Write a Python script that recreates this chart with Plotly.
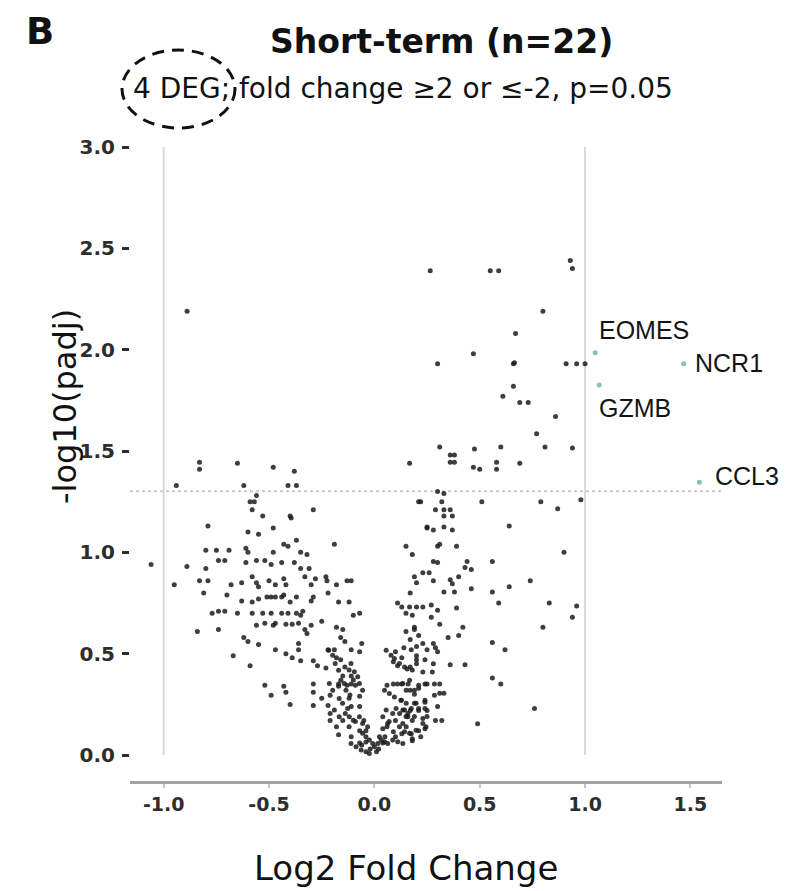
import math
import plotly.graph_objects as go

# ---------------------------------------------------------------------------
# Volcano plot data: log2 fold change and -log10(adjusted p) per gene
# ---------------------------------------------------------------------------
LOG2FC = [
    # genes with padj < 0.05
    0.265, 0.55, 0.59, 0.93, 0.94, 0.80, 0.67, 0.47, 0.30, 0.66, 0.665, 0.91, 0.96, 1.00,
    0.66, 0.61, 0.69, 0.73, 0.86, 0.77, 0.31, 0.475, 0.60, 0.81, 0.94, 0.36, 0.38, 0.36,
    0.38, 0.47, 0.50, 0.58, 0.58, 0.69, 0.167, 0.30, 0.33, -0.889, -0.83, -0.83, -0.65,
    -0.48, -0.38, -0.41, -0.37, -0.62, -0.94,
    # left arm
    -0.56, -0.59, -0.57, -0.58, -0.53, -0.40, -0.395, -0.29, -0.48, -0.79, -0.60, -0.55,
    -0.19, -0.43, -0.41, -0.37, 0.21, 0.25, 0.15, 0.18,
    -0.80, -0.75, -0.69, -0.61, -0.60, -0.48, -0.35, -0.32,
    -1.06, -0.89, -0.80, -0.74, -0.71, -0.61, -0.56, -0.52, -0.49, -0.44, -0.38, -0.35, -0.31,
    -0.95, -0.83, -0.79, -0.81, -0.68, -0.63, -0.58, -0.56, -0.55, -0.50, -0.47, -0.43, -0.42,
    -0.33, -0.30, -0.28, -0.23, -0.225, -0.18, -0.13, -0.11,
    -0.70, -0.63, -0.58, -0.55, -0.51, -0.49, -0.47, -0.44, -0.43, -0.40, -0.37, -0.30, -0.29,
    -0.22, -0.17, -0.12,
    -0.77, -0.74, -0.71, -0.65, -0.58, -0.53, -0.49, -0.44, -0.41, -0.37, -0.35, -0.34, -0.10, -0.07,
    -0.84, -0.74, -0.56, -0.52, -0.48, -0.47, -0.42, -0.39, -0.36, -0.33, -0.32, -0.30, -0.25,
    -0.18, -0.15,
    -0.62, -0.60, -0.55, -0.36, -0.16, -0.14, -0.06,
    -0.67, -0.59, -0.47, -0.42, -0.39, -0.36, -0.35, -0.29, -0.27, -0.23, -0.22, -0.19, -0.18,
    -0.16, -0.11, -0.07,
    -0.52, -0.49, -0.43, -0.42, -0.40, -0.29, -0.29, -0.29, -0.25, -0.22, -0.21, -0.17, -0.17,
    -0.15, -0.14, -0.12, -0.11, -0.10, -0.13, -0.11, -0.09, -0.07, -0.12, -0.11, -0.07,
    -0.21, -0.21, -0.18, -0.17, -0.15, -0.12, -0.09, -0.07, -0.05, -0.04,
    -0.11, -0.07, -0.06, -0.04, -0.02, 0.01, 0.02, 0.04, 0.05,
    # right arm
    0.04, 0.06, 0.09, 0.10, 0.07, 0.10, 0.12, 0.15, 0.17, 0.19, 0.21,
    0.06, 0.09, 0.11, 0.13, 0.16,
    0.09, 0.11, 0.13, 0.17, 0.18, 0.20,
    0.10, 0.14, 0.17, 0.19, 0.21, 0.15, 0.19, 0.23, 0.25,
    0.11, 0.13, 0.15, 0.18, 0.20,
    0.19, 0.20, 0.23, 0.17,
    0.17, 0.19, 0.21, 0.24,
    0.19, 0.24, 0.25,
    0.18, 0.22, 0.245,
    0.22, 0.32, 0.51, 0.79, 0.87, 0.98,
    0.29, 0.33, 0.36, 0.37, 0.33,
    0.25, 0.28, 0.33, 0.37, 0.64,
    0.30, 0.31, 0.39, 0.90,
    0.28, 0.30, 0.44, 0.56, 0.43, 0.46,
    0.26, 0.28, 0.36, 0.37, 0.40,
    0.46, 0.64, 0.74,
    0.33, 0.38, 0.56,
    0.59, 0.83, 0.96, 0.94,
    0.167, 0.23, 0.27, 0.30, 0.39,
    0.27, 0.31,
    0.35, 0.42, 0.40, 0.80,
    0.56, 0.62,
    0.29, 0.30, 0.28, 0.20, 0.175,
    0.20, 0.24, 0.20, 0.28, 0.36, 0.43,
    0.23, 0.275, 0.155,
    0.56, 0.60,
    0.21, 0.25, 0.285, 0.31, 0.285, 0.31, 0.33,
    0.24, 0.24, 0.30, 0.21, 0.175,
    0.76,
    0.23, 0.25, 0.29, 0.32, 0.18,
    0.49,
    0.21, 0.24, 0.175, 0.18, 0.13,
    # dense core of the V
    -0.217, -0.198, -0.186, -0.170, -0.159, -0.143, -0.135, -0.116, -0.214, -0.198, -0.167,
    -0.151, -0.127, -0.111, -0.095, -0.079, -0.071, -0.056, -0.190, -0.167, -0.138, -0.119,
    -0.100, -0.071, -0.056, -0.032, -0.056, -0.040, -0.024, -0.008, 0.000, 0.016, 0.032,
    -0.111, -0.087, -0.063, -0.040, -0.024,
    0.056, 0.079, 0.095, 0.119, 0.143, 0.048, 0.071, 0.095, 0.127, 0.151, 0.056, 0.087,
    0.103, 0.135, 0.159, 0.040, 0.063, 0.119, 0.143, 0.167, 0.198, 0.230, 0.024, 0.048,
    0.063, 0.087, 0.111, 0.135,
    0.135, 0.151, 0.127, 0.143, 0.159, 0.190, 0.198, 0.167, 0.135, 0.151,
]

NEG_LOG10_PADJ = [
    # genes with padj < 0.05
    2.39, 2.39, 2.39, 2.44, 2.40, 2.19, 2.08, 1.98, 1.93, 1.93, 1.935, 1.93, 1.93, 1.93,
    1.82, 1.77, 1.74, 1.74, 1.67, 1.585, 1.52, 1.51, 1.52, 1.52, 1.515, 1.48, 1.48, 1.445,
    1.445, 1.42, 1.41, 1.445, 1.41, 1.44, 1.44, 1.30, 1.29, 2.19, 1.445, 1.41, 1.44,
    1.42, 1.40, 1.33, 1.33, 1.33, 1.33,
    # left arm
    1.28, 1.25, 1.25, 1.21, 1.18, 1.18, 1.17, 1.21, 1.12, 1.13, 1.10, 1.09,
    1.04, 1.04, 1.03, 1.06, 1.25, 1.12, 1.03, 0.99,
    1.01, 1.01, 1.01, 1.02, 1.00, 1.00, 1.00, 0.99,
    0.94, 0.93, 0.92, 0.96, 0.96, 0.95, 0.96, 0.96, 0.94, 0.95, 0.95, 0.92, 0.92,
    0.84, 0.86, 0.86, 0.80, 0.84, 0.85, 0.88, 0.85, 0.83, 0.86, 0.84, 0.87, 0.84,
    0.88, 0.84, 0.87, 0.88, 0.86, 0.84, 0.86, 0.86,
    0.79, 0.76, 0.755, 0.77, 0.78, 0.78, 0.78, 0.78, 0.79, 0.755, 0.78, 0.76, 0.78,
    0.80, 0.755, 0.755,
    0.70, 0.71, 0.71, 0.70, 0.70, 0.70, 0.70, 0.70, 0.70, 0.70, 0.69, 0.71, 0.69, 0.70,
    0.61, 0.62, 0.64, 0.65, 0.64, 0.65, 0.645, 0.645, 0.65, 0.62, 0.60, 0.64, 0.66,
    0.63, 0.62,
    0.58, 0.56, 0.545, 0.55, 0.58, 0.56, 0.55,
    0.49, 0.44, 0.52, 0.50, 0.48, 0.52, 0.465, 0.465, 0.44, 0.43, 0.52, 0.52, 0.48,
    0.47, 0.52, 0.51,
    0.345, 0.295, 0.34, 0.31, 0.25, 0.35, 0.31, 0.245, 0.28, 0.245, 0.295, 0.35, 0.34,
    0.39, 0.435, 0.42, 0.39, 0.37, 0.345, 0.35, 0.345, 0.29, 0.28, 0.24, 0.24,
    0.205, 0.17, 0.14, 0.10, 0.17, 0.14, 0.165, 0.12, 0.17, 0.12,
    0.09, 0.06, 0.05, 0.065, 0.03, 0.016, 0.03, 0.06, 0.09,
    # right arm
    0.13, 0.14, 0.115, 0.09, 0.165, 0.17, 0.205, 0.19, 0.22, 0.19, 0.23,
    0.345, 0.35, 0.35, 0.35, 0.35,
    0.46, 0.44, 0.48, 0.435, 0.42, 0.47,
    0.51, 0.53, 0.57, 0.62, 0.59, 0.61, 0.63, 0.55, 0.52,
    0.75, 0.73, 0.70, 0.69, 0.73,
    0.88, 0.85, 0.90, 0.80,
    0.32, 0.30, 0.33, 0.35,
    0.255, 0.27, 0.22,
    0.07, 0.09, 0.14,
    1.25, 1.25, 1.25, 1.25, 1.215, 1.26,
    1.21, 1.21, 1.21, 1.18, 1.18,
    1.125, 1.11, 1.125, 1.11, 1.13,
    1.03, 1.04, 1.03, 1.00,
    0.955, 0.95, 0.955, 0.955, 0.925, 0.915,
    0.90, 0.86, 0.865, 0.845, 0.88,
    0.82, 0.83, 0.86,
    0.805, 0.805, 0.805,
    0.75, 0.75, 0.735, 0.68,
    0.73, 0.73, 0.74, 0.715, 0.725,
    0.68, 0.645,
    0.58, 0.63, 0.59, 0.63,
    0.555, 0.52,
    0.53, 0.51, 0.55, 0.535, 0.52,
    0.49, 0.47, 0.45, 0.45, 0.445, 0.445,
    0.41, 0.41, 0.425,
    0.38, 0.35,
    0.345, 0.35, 0.35, 0.35, 0.295, 0.305, 0.305,
    0.26, 0.23, 0.24, 0.22, 0.23,
    0.23,
    0.18, 0.19, 0.17, 0.17, 0.17,
    0.155,
    0.12, 0.13, 0.105, 0.08, 0.105,
    # dense core of the V
    0.517, 0.493, 0.452, 0.419, 0.369, 0.353, 0.320, 0.296, 0.353, 0.320, 0.279,
    0.255, 0.230, 0.452, 0.411, 0.386, 0.353, 0.320, 0.222, 0.189, 0.205, 0.189,
    0.172, 0.189, 0.156, 0.140, 0.107, 0.090, 0.074, 0.057, 0.041, 0.057, 0.074,
    0.057, 0.041, 0.025, 0.016, 0.008,
    0.517, 0.493, 0.476, 0.452, 0.435, 0.320, 0.304, 0.287, 0.271, 0.255, 0.222, 0.205,
    0.230, 0.222, 0.205, 0.189, 0.156, 0.140, 0.115, 0.107, 0.123, 0.156, 0.090, 0.066,
    0.057, 0.074, 0.066, 0.057,
    0.353, 0.320, 0.271, 0.222, 0.189, 0.320, 0.255, 0.369, 0.156, 0.140,
]

# Differentially expressed genes (highlighted and labelled)
DEG_GENES = ["EOMES", "NCR1", "GZMB", "CCL3"]
DEG_LOG2FC = [1.048, 1.468, 1.067, 1.543]
DEG_NEG_LOG10_PADJ = [1.985, 1.93, 1.826, 1.346]
# label placement relative to each point (pixels)
DEG_LABEL_SHIFT = [(2, 23), (9, 1), (-2, -23), (14, 6)]

X_TICKS = [-1.0, -0.5, 0.0, 0.5, 1.0, 1.5]
X_TICK_LABELS = ["-1.0", "-0.5", "0.0", "0.5", "1.0", "1.5"]
Y_TICKS = [0.0, 0.5, 1.0, 1.5, 2.0, 2.5, 3.0]
Y_TICK_LABELS = ["0.0", "0.5", "1.0", "1.5", "2.0", "2.5", "3.0"]

FC_CUTOFF = 1.0      # |log2 FC| >= 1  (fold change >= 2 or <= -2)
P_CUTOFF = 0.05
Y_TOP = 3.0

# ---------------------------------------------------------------------------
# Layout geometry
# ---------------------------------------------------------------------------
W, H = 793, 891
ML, MR, MT, MB = 130, 71, 147, 110
PW, PH = W - ML - MR, H - MT - MB


def fx(px):
    """page x pixel -> paper coordinate"""
    return (px - ML) / PW


def fy(py):
    """page y pixel -> paper coordinate"""
    return (H - MB - py) / PH


WIDE = "DejaVu Sans"
PLAIN = "Liberation Sans, Arial, sans-serif"

fig = go.Figure()

fig.add_trace(go.Scatter(
    x=LOG2FC, y=NEG_LOG10_PADJ, mode="markers",
    marker=dict(size=5, color="rgba(28,28,28,0.85)", line=dict(width=0)),
    hoverinfo="skip", showlegend=False,
))
fig.add_trace(go.Scatter(
    x=DEG_LOG2FC, y=DEG_NEG_LOG10_PADJ, mode="markers", text=DEG_GENES,
    marker=dict(size=5, color="#84c2b2", line=dict(width=0)),
    showlegend=False,
))

# threshold guides
for xv in (-FC_CUTOFF, FC_CUTOFF):
    fig.add_shape(type="line", xref="x", yref="y", x0=xv, x1=xv, y0=0, y1=Y_TOP,
                  line=dict(color="#d9d9d9", width=2), layer="below")
fig.add_shape(type="line", xref="paper", yref="y", x0=0, x1=1,
              y0=-math.log10(P_CUTOFF), y1=-math.log10(P_CUTOFF),
              line=dict(color="#c9c9c9", width=2, dash="dot"), layer="below")

# gene labels
for g, xv, yv, (dx, dy) in zip(DEG_GENES, DEG_LOG2FC, DEG_NEG_LOG10_PADJ, DEG_LABEL_SHIFT):
    fig.add_annotation(x=xv, y=yv, xref="x", yref="y", text=g, showarrow=False,
                       xanchor="left", yanchor="middle", xshift=dx, yshift=dy,
                       font=dict(family=PLAIN, size=25, color="#141414"))

# panel letter, titles, axis titles
fig.add_annotation(x=fx(40), y=fy(31), xref="paper", yref="paper", text="B",
                   showarrow=False, xanchor="center", yanchor="middle",
                   font=dict(family=WIDE, size=37, color="#111", weight="bold"))
fig.add_annotation(x=fx(442), y=fy(42), xref="paper", yref="paper",
                   text="Short-term (n=22)", showarrow=False,
                   xanchor="center", yanchor="middle",
                   font=dict(family=WIDE, size=33, color="#111", weight="bold"))
fig.add_annotation(x=fx(131), y=fy(89), xref="paper", yref="paper",
                   text="4 DEG; fold change \u22652 or \u2264-2, p=0.05", showarrow=False,
                   xanchor="left", yanchor="middle",
                   font=dict(family=WIDE, size=28, color="#111"))
fig.add_annotation(x=fx(406), y=fy(868), xref="paper", yref="paper",
                   text="Log2 Fold Change", showarrow=False,
                   xanchor="center", yanchor="middle",
                   font=dict(family=WIDE, size=34, color="#111"))
fig.add_annotation(x=fx(65), y=fy(407), xref="paper", yref="paper",
                   text="-log10(padj)", showarrow=False, textangle=-90,
                   xanchor="center", yanchor="middle",
                   font=dict(family=WIDE, size=32, color="#111"))

# dashed ring around the DEG count
fig.add_shape(type="circle", xref="paper", yref="paper",
              x0=fx(122), x1=fx(235), y0=fy(128), y1=fy(50),
              line=dict(color="#111", width=3, dash="12px,8px"))

fig.update_layout(
    width=W, height=H,
    margin=dict(l=ML, r=MR, t=MT, b=MB, pad=0),
    paper_bgcolor="white", plot_bgcolor="white",
    xaxis=dict(
        range=[-1.16, 1.65], tickvals=X_TICKS, ticktext=X_TICK_LABELS,
        showgrid=False, zeroline=False,
        showline=True, linecolor="#a3a3a3", linewidth=3,
        ticks="outside", ticklen=4, tickwidth=2, tickcolor="#c4c4c4",
        tickfont=dict(family=WIDE, size=19, color="#2e2e2e", weight="bold"),
    ),
    yaxis=dict(
        range=[-0.128, Y_TOP], tickvals=Y_TICKS, ticktext=Y_TICK_LABELS,
        showgrid=False, zeroline=False, showline=False,
        ticks="outside", ticklen=7, tickwidth=2.5, tickcolor="#2e2e2e",
        ticklabelstandoff=3,
        tickfont=dict(family=WIDE, size=20, color="#2e2e2e", weight="bold"),
    ),
)

fig.write_html("out.html")
